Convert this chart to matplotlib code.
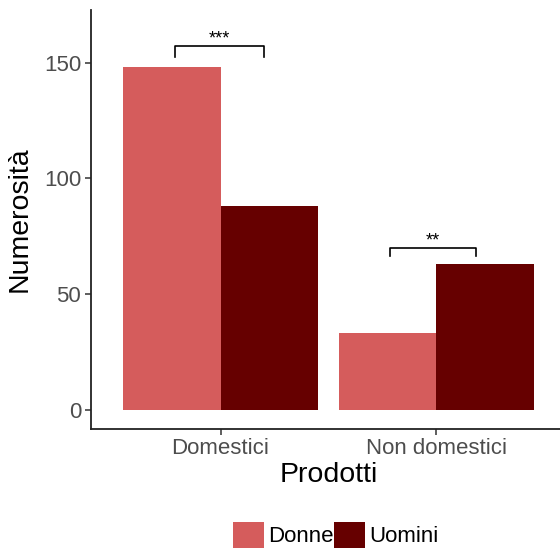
import numpy as np
from matplotlib import pyplot as plt
from matplotlib.patches import Patch

plt.rcParams['font.family'] = ['Liberation Sans', 'DejaVu Sans']

# dati
categorie = ["Domestici", "Non domestici"]
donne = [148, 33]
uomini = [88, 63]
gruppi = ["Donne", "Uomini"]
colori = ["#D55C5C", "#660000"]

# parentesi di significativita: (x1, x2, altezza, base, etichetta)
sig_x1 = [0.79, 1.785]
sig_x2 = [1.20, 2.185]
sig_y = [157.3, 70.0]
sig_base = [152.6, 66.4]
sig_label = ["***", "**"]

fig = plt.figure(figsize=(5.6, 5.51), dpi=100)
ax = fig.add_axes([91/560, 122.5/551, 475/560, 418.5/551])

x = np.arange(1, len(categorie)+1)
w = 0.45
ax.bar(x - w/2, donne, width=w, color=colori[0], label=gruppi[0])
ax.bar(x + w/2, uomini, width=w, color=colori[1], label=gruppi[1])

for x1, x2, y, yb, lab in zip(sig_x1, sig_x2, sig_y, sig_base, sig_label):
    ax.plot([x1, x1, x2, x2], [yb, y, y, yb], color="black", lw=1.2)
    ax.text((x1+x2)/2, y + 0.8, lab, ha="center", va="baseline", fontsize=13)

ax.set_xlim(0.4, 2.6)
ax.set_ylim(-8.2, 172.7)
ax.set_xticks(x)
ax.set_xticklabels(categorie)
ax.set_yticks([0, 50, 100, 150])

for s in ["top", "right"]:
    ax.spines[s].set_visible(False)
for s in ["left", "bottom"]:
    ax.spines[s].set_linewidth(1.3)
    ax.spines[s].set_color("#222222")

ax.tick_params(axis="both", labelsize=16, labelcolor="#4D4D4D", color="#333333",
               length=4.5, width=1.1, pad=2.5)
ax.set_xlabel("Prodotti", fontsize=20.5, labelpad=2)
ax.set_ylabel("Numerosità", fontsize=20.5, labelpad=8)

handles = [Patch(facecolor=c, edgecolor="none") for c in colori]
fig.legend(handles, gruppi, loc="center", bbox_to_anchor=(335.5/560, 16/551),
           ncol=2, frameon=False, fontsize=16, handlelength=1.4, handleheight=1.45,
           handletextpad=0.2, columnspacing=0.0, borderpad=0)

plt.savefig("out.png", dpi=100)
